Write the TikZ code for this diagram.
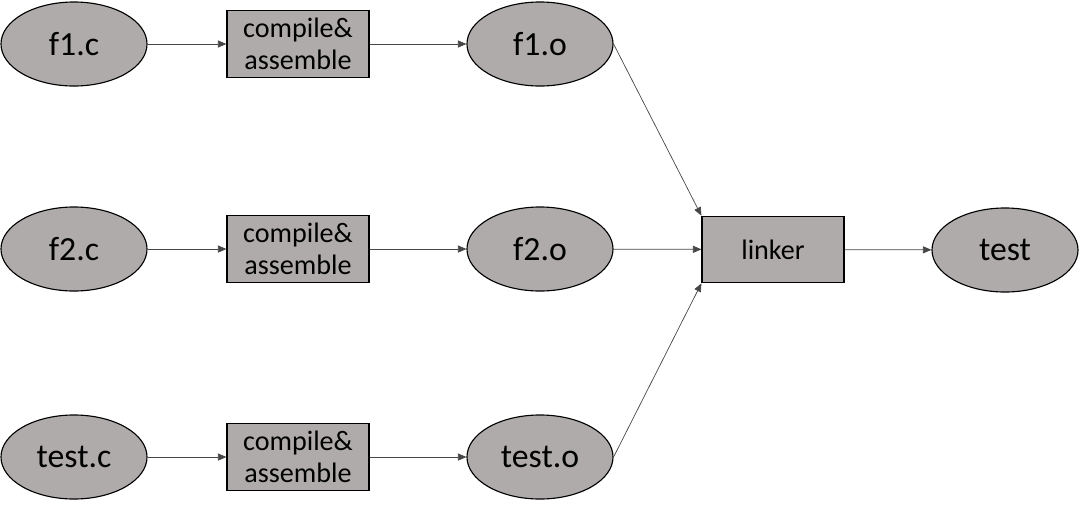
\documentclass[tikz,border=0pt]{standalone}
\usepackage{fontspec}
\setmainfont{Carlito}
\usetikzlibrary{shapes.geometric,arrows.meta}
\definecolor{nodegray}{RGB}{175,171,171}
\definecolor{wiregray}{RGB}{70,70,70}
\tikzset{
  file/.style={ellipse, draw=black, line width=0.8pt, fill=nodegray, inner sep=0pt,
    minimum width=3.65cm, minimum height=2.1cm, font=\fontsize{24}{28}\selectfont},
  tool/.style={rectangle, draw=black, line width=0.8pt, fill=nodegray, inner sep=0pt,
    minimum width=3.55cm, minimum height=1.66cm, align=center,
    font=\fontsize{20}{23}\selectfont},
  flow/.style={draw=wiregray, line width=0.5pt, -{Triangle[length=6pt,width=5pt]}}
}
\begin{document}
\begin{tikzpicture}[x=0.025cm,y=-0.025cm]
\useasboundingbox (0,0) rectangle (1080,508);
% sources
\node[file] (f1c) at (74,44) {f1.c};
\node[file] (f2c) at (74,249) {f2.c};
\node[file] (testc) at (74,457) {test.c};
% compile steps
\node[tool] (cc1) at (298,44) {compile\&\\assemble};
\node[tool] (cc2) at (298,249) {compile\&\\assemble};
\node[tool] (cc3) at (298,457) {compile\&\\assemble};
% objects
\node[file] (f1o) at (540,44) {f1.o};
\node[file] (f2o) at (540,249) {f2.o};
\node[file] (testo) at (540,457) {test.o};
% link
\node[tool] (linker) at (773,249.5) {linker};
\node[file] (test) at (1005,250) {test};
\draw[flow] (f1c) -- (cc1);
\draw[flow] (f2c) -- (cc2);
\draw[flow] (testc) -- (cc3);
\draw[flow] (cc1) -- (f1o);
\draw[flow] (cc2) -- (f2o);
\draw[flow] (cc3) -- (testo);
\draw[flow] (f1o.east) -- (linker.north west);
\draw[flow] (f2o) -- (linker);
\draw[flow] (testo.east) -- (linker.south west);
\draw[flow] (linker) -- (test);
\end{tikzpicture}
\end{document}
